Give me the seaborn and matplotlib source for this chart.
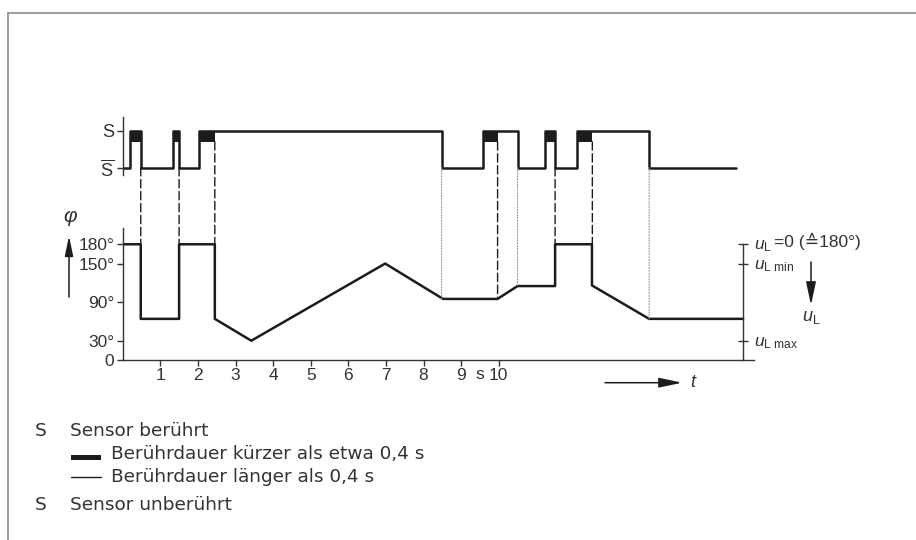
import matplotlib
matplotlib.use("Agg")
import matplotlib.pyplot as plt
import seaborn as sns
from matplotlib import font_manager
from matplotlib.patches import ConnectionPatch, Rectangle, FancyArrowPatch
from matplotlib.lines import Line2D

# Daten: Phasenwinkel phi über der Zeit t (s)
t_phi = [0, 0.48, 0.48, 1.5, 1.5, 2.45, 2.45, 3.42, 6.98, 8.52, 9.97, 10.5,
         11.5, 11.5, 12.48, 12.48, 14.0, 16.5]
phi = [180, 180, 64, 64, 180, 180, 64, 30, 150, 95, 95, 115,
       115, 180, 180, 116, 64, 64]

# Sensor berührt (S) / unberührt (S-quer)
touch_start = [0.2, 1.35, 2.04, 9.59, 11.23, 12.09]
touch_end = [0.48, 1.5, 8.48, 10.5, 11.5, 14.0]
short_end = [0.48, 1.5, 2.45, 9.97, 11.5, 12.49]
s_end = 16.3

# Hilfslinien zwischen beiden Diagrammen
dash_t = [0.48, 1.5, 2.45, 9.97, 11.5, 12.49]
dash_top = [0, 0, 0.7, 0.7, 0, 0.7]
dash_bottom = [180, 180, 180, 95, 180, 180]
dot_t = [8.48, 10.5, 14.0]
dot_bottom = [95, 115, 64]

phi_ticks = [0, 30, 90, 150, 180]
phi_labels = ["0", "30°", "90°", "150°", "180°"]
t_ticks = [1, 2, 3, 4, 5, 6, 7, 8, 9, 10]
ul_ticks = [30, 150, 180]
ul_labels = [r"$u_\mathrm{L\ max}$", r"$u_\mathrm{L\ min}$", r"$u_\mathrm{L}$"]

W, H = 916, 540
LINE = "#1c1c1c"
TXT = "#333333"
FS = 12.5

sns.set_theme(style="white")
names = {f.name for f in font_manager.fontManager.ttflist}
NARROW = "Liberation Sans Narrow" if "Liberation Sans Narrow" in names else "Liberation Sans"
plt.rcParams["font.family"] = [NARROW, "DejaVu Sans"]
plt.rcParams["mathtext.fontset"] = "custom"
plt.rcParams["mathtext.rm"] = NARROW
plt.rcParams["mathtext.it"] = NARROW + ":italic"
plt.rcParams["mathtext.bf"] = NARROW + ":bold"


def fp(x, y):
    # Pixel im Bild -> Figure-Koordinaten
    return (x / W, 1 - y / H)


fig = plt.figure(figsize=(W / 100, H / 100), dpi=100)
fig.patch.set_facecolor("white")

x0, x_len = 122.7, 631.7
ax_p = fig.add_axes([x0 / W, (H - 360) / H, x_len / W, 131.8 / H])
ax_s = fig.add_axes([x0 / W, (H - 175) / H, x_len / W, 58.3 / H])

# --- oberes Diagramm: Sensorzustand
ts, lv = [0], [0]
for a, b in zip(touch_start, touch_end):
    ts += [a, a, b, b]
    lv += [0, 1, 1, 0]
ts.append(s_end)
lv.append(0)
widths = [e - s for s, e in zip(touch_start, short_end)]
ax_s.bar(touch_start, 0.3, width=widths, bottom=0.7, align="edge", color=LINE, linewidth=0)
sns.lineplot(x=ts, y=lv, sort=False, estimator=None, ax=ax_s, color=LINE, lw=1.8)
ax_s.set_xlim(0, 16.8)
ax_s.set_ylim(-0.2, 1.38)
ax_s.set_yticks([0, 1], [r"$\overline{\mathrm{S}}$", "S"])
ax_s.set_xticks([])
for side in ["top", "right", "bottom"]:
    ax_s.spines[side].set_visible(False)
ax_s.spines["left"].set_color(TXT)
ax_s.spines["left"].set_linewidth(1.0)
ax_s.tick_params(axis="y", left=True, direction="out", length=4, width=1, colors=TXT,
                 labelsize=FS + 0.6, pad=2)
ax_s.set_facecolor("none")

# --- unteres Diagramm: phi(t)
sns.lineplot(x=t_phi, y=phi, sort=False, estimator=None, ax=ax_p, color=LINE, lw=1.8)
ax_p.set_xlim(0, 16.8)
ax_p.set_ylim(0, 205)
ax_p.set_yticks(phi_ticks, phi_labels)
ax_p.set_xticks(t_ticks, [str(v) for v in t_ticks])
ax_p.set_xticks([9.5], ["s"], minor=True)
for side in ["top", "right"]:
    ax_p.spines[side].set_visible(False)
for side in ["left", "bottom"]:
    ax_p.spines[side].set_color(TXT)
    ax_p.spines[side].set_linewidth(1.0)
ax_p.tick_params(axis="both", which="major", left=True, bottom=True, direction="out",
                 length=4, width=1, colors=TXT, labelsize=FS, pad=2)
ax_p.tick_params(axis="x", which="minor", bottom=True, length=0, colors=TXT,
                 labelsize=FS, pad=5)
ax_p.set_xlabel("")
ax_p.set_ylabel("")
ax_p.set_facecolor("none")

# rechte Achse u_L
ax_r = ax_p.twinx()
ax_r.set_ylim(0, 205)
for side in ["top", "left", "bottom"]:
    ax_r.spines[side].set_visible(False)
ax_r.spines["right"].set_position(("data", 16.5))
ax_r.spines["right"].set_bounds(0, 180)
ax_r.spines["right"].set_color(TXT)
ax_r.spines["right"].set_linewidth(1.0)
ax_r.set_yticks(ul_ticks, ul_labels)
ax_r.tick_params(axis="y", right=True, direction="inout", length=7, width=1, colors=TXT,
                 labelsize=FS, pad=4)
ax_r.grid(False)
ax_r.annotate("=0 (≙180°)", xy=(16.5, 180), xycoords="data", xytext=(22, 2),
              textcoords="offset points", ha="left", va="center", fontsize=FS,
              color=TXT, family=[NARROW, "DejaVu Sans"])

# gestrichelte / punktierte Verbindungslinien
for t, a, b in zip(dash_t, dash_top, dash_bottom):
    fig.add_artist(ConnectionPatch(xyA=(t, a), coordsA="data", axesA=ax_s,
                                   xyB=(t, b), coordsB="data", axesB=ax_p,
                                   color=LINE, lw=1.0, linestyle=(0, (6, 2.6))))
for t, b in zip(dot_t, dot_bottom):
    fig.add_artist(ConnectionPatch(xyA=(t, 0), coordsA="data", axesA=ax_s,
                                   xyB=(t, b), coordsB="data", axesB=ax_p,
                                   color="#9a9a9a", lw=0.8, linestyle=(0, (1, 1.5))))


# Pfeile und Achsbeschriftungen
def arrow(p_from, p_to, hl=1.4, hw=0.3):
    fig.add_artist(FancyArrowPatch(
        fp(*p_from), fp(*p_to), transform=fig.transFigure,
        arrowstyle=f"-|>,head_length={hl},head_width={hw}", mutation_scale=10,
        color=LINE, lw=1.1, shrinkA=0, shrinkB=0))


arrow((69, 297), (69, 236), hl=1.2, hw=0.25)
fig.text(*fp(70, 218), r"$\varphi$", ha="center", va="center", fontsize=15, color=TXT)
arrow((811, 262), (811, 305))
fig.text(*fp(811, 318), r"$u_\mathrm{L}$", ha="center", va="center", fontsize=13, color=TXT)
arrow((605, 382.7), (682, 382.7))
fig.text(*fp(690, 382.7), r"$t$", ha="left", va="center", fontsize=13, color=TXT)

# Rahmen
fig.add_artist(Line2D([8 / W, 1], [1 - 13 / H] * 2, transform=fig.transFigure,
                      color="#8c8c8c", lw=1.2))
fig.add_artist(Line2D([8 / W] * 2, [1 - 13 / H, 0], transform=fig.transFigure,
                      color="#8c8c8c", lw=1.2))

# Legende
LEG = dict(fontsize=13.3, color=TXT, family="DejaVu Sans", va="baseline")
fig.text(*fp(35, 436), "S", **LEG)
fig.text(*fp(70, 436), "Sensor berührt", **LEG)
fig.add_artist(Rectangle(fp(71, 459.5), 30 / W, 5 / H, transform=fig.transFigure,
                         color=LINE, lw=0))
fig.text(*fp(111, 459), "Berührdauer kürzer als etwa 0,4 s", **LEG)
fig.add_artist(Line2D([71 / W, 101 / W], [1 - 477 / H] * 2, transform=fig.transFigure,
                      color=LINE, lw=1.0))
fig.text(*fp(111, 482.5), "Berührdauer länger als 0,4 s", **LEG)
fig.text(*fp(35, 510), "S", **LEG)
fig.text(*fp(70, 510), "Sensor unberührt", **LEG)

fig.savefig("out.png", dpi=100)
